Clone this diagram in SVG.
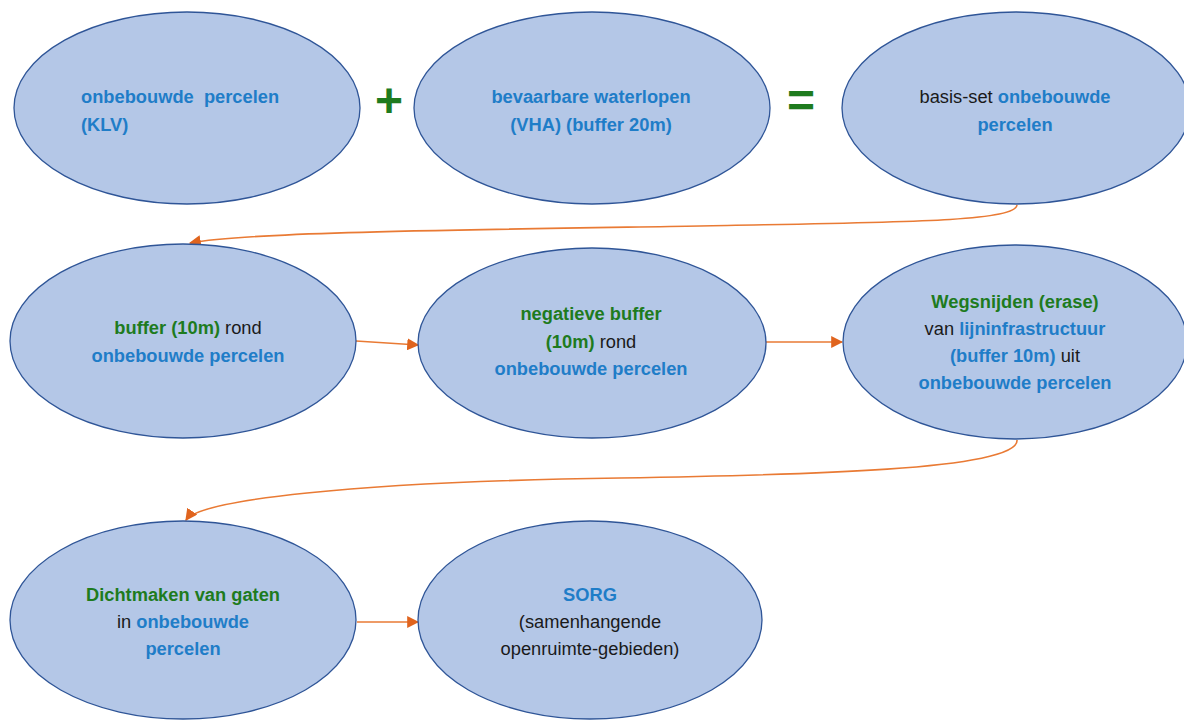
<svg xmlns="http://www.w3.org/2000/svg" width="1184" height="722" viewBox="0 0 1184 722">
<style>
.node{fill:#B4C7E7;stroke:#2F5597;stroke-width:1.3}
text{font-family:"Liberation Sans",Arial,sans-serif;font-size:18.3px;text-anchor:middle;fill:#1a1a1a}
.b{fill:#1F7DC8;font-weight:bold}
.g{fill:#1E7B1E;font-weight:bold}
.k{fill:#1a1a1a;font-weight:normal}
.op{fill:#1E7B1E;font-size:48px;font-weight:bold}
.conn{fill:none;stroke:#E97A34;stroke-width:1.6}
</style>
<defs>
<marker id="ahb" viewBox="0 0 10 10" refX="9" refY="5" markerWidth="12" markerHeight="12" markerUnits="userSpaceOnUse" orient="auto">
<path d="M0,0 L10,5 L0,10 z" fill="#E0641E"/>
</marker>
</defs>
<rect width="1184" height="722" fill="#ffffff"/>
<g id="connectors">
<path class="conn" marker-end="url(#ahb)" d="M1017,205 C1015,222 900,222 700,226 C450,230 250,232 190,243"/>
<path class="conn" marker-end="url(#ahb)" d="M356,341 L418,345"/>
<path class="conn" marker-end="url(#ahb)" d="M766,342 L842,342"/>
<path class="conn" marker-end="url(#ahb)" d="M1017,440 C1020,470 800,475 620,478 C350,482 200,500 186,520"/>
<path class="conn" marker-end="url(#ahb)" d="M357,622 L418,622"/>
</g>
<g id="n1">
<ellipse class="node" cx="187" cy="108" rx="173" ry="96"/>
<text x="81" y="103" style="text-anchor:start"><tspan class="b" xml:space="preserve">onbebouwde  percelen</tspan></text>
<text x="81" y="131" style="text-anchor:start"><tspan class="b">(KLV)</tspan></text>
</g>
<g id="plus"><text class="op" x="389" y="117">+</text></g>
<g id="n2">
<ellipse class="node" cx="592" cy="108" rx="178" ry="96"/>
<text x="591" y="103"><tspan class="b">bevaarbare waterlopen</tspan></text>
<text x="591" y="131"><tspan class="b">(VHA) (buffer 20m)</tspan></text>
</g>
<g id="eq"><text class="op" x="801" y="117">=</text></g>
<g id="n3">
<ellipse class="node" cx="1016" cy="108" rx="174" ry="96"/>
<text x="1015" y="103"><tspan class="k">basis-set </tspan><tspan class="b">onbebouwde</tspan></text>
<text x="1015" y="131"><tspan class="b">percelen</tspan></text>
</g>
<g id="n4">
<ellipse class="node" cx="183" cy="341" rx="173" ry="97"/>
<text x="188" y="334"><tspan class="g">buffer (10m)</tspan><tspan class="k"> rond</tspan></text>
<text x="188" y="362"><tspan class="b">onbebouwde percelen</tspan></text>
</g>
<g id="n5">
<ellipse class="node" cx="592" cy="343" rx="174" ry="95"/>
<text x="591" y="320"><tspan class="g">negatieve buffer</tspan></text>
<text x="591" y="348"><tspan class="g">(10m)</tspan><tspan class="k"> rond</tspan></text>
<text x="591" y="375"><tspan class="b">onbebouwde percelen</tspan></text>
</g>
<g id="n6">
<ellipse class="node" cx="1015" cy="342" rx="172" ry="97"/>
<text x="1015" y="308"><tspan class="g">Wegsnijden (erase)</tspan></text>
<text x="1015" y="335"><tspan class="k">van </tspan><tspan class="b">lijninfrastructuur</tspan></text>
<text x="1015" y="362"><tspan class="b">(buffer 10m)</tspan><tspan class="k"> uit</tspan></text>
<text x="1015" y="389"><tspan class="b">onbebouwde percelen</tspan></text>
</g>
<g id="n7">
<ellipse class="node" cx="183" cy="620" rx="173" ry="99"/>
<text x="183" y="601"><tspan class="g">Dichtmaken van gaten</tspan></text>
<text x="183" y="628"><tspan class="k">in </tspan><tspan class="b">onbebouwde</tspan></text>
<text x="183" y="655"><tspan class="b">percelen</tspan></text>
</g>
<g id="n8">
<ellipse class="node" cx="590" cy="620" rx="172" ry="99"/>
<text x="590" y="601"><tspan class="b">SORG</tspan></text>
<text x="590" y="628"><tspan class="k">(samenhangende</tspan></text>
<text x="590" y="655"><tspan class="k">openruimte-gebieden)</tspan></text>
</g>
</svg>
